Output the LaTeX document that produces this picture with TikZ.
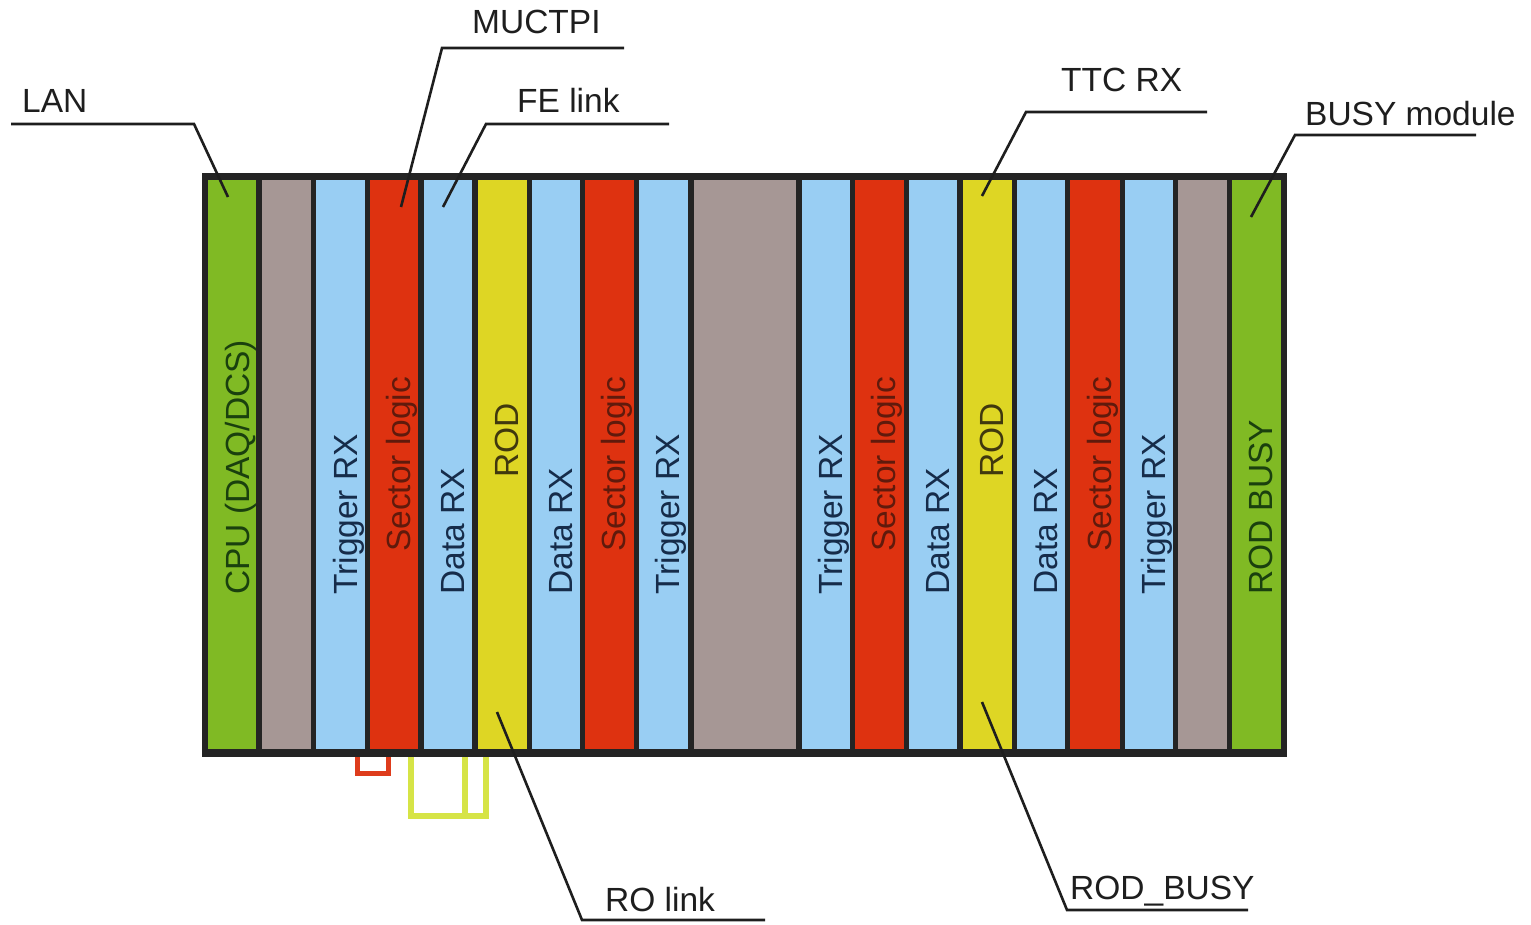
\documentclass[tikz,border=0pt]{standalone}
\usepackage{fontspec}
\setmainfont{Liberation Sans}
\definecolor{cgreen}{RGB}{128,186,36}
\definecolor{cgray}{RGB}{166,151,149}
\definecolor{cblue}{RGB}{153,206,243}
\definecolor{cred}{RGB}{222,50,16}
\definecolor{cyellow}{RGB}{222,214,36}
\definecolor{framedark}{RGB}{36,36,36}
\definecolor{linedark}{RGB}{30,30,30}
\definecolor{tgreen}{RGB}{26,64,14}
\definecolor{tnavy}{RGB}{22,44,74}
\definecolor{tred}{RGB}{96,26,12}
\definecolor{tolive}{RGB}{64,56,14}
\definecolor{textdark}{RGB}{30,30,30}
\definecolor{redlink}{RGB}{222,60,28}
\definecolor{limelink}{RGB}{214,228,70}
\begin{document}
\begin{tikzpicture}[x=1pt,y=-1pt,
  rackbox/.style={rectangle, inner sep=0pt, draw=none, fill=framedark, anchor=north west},
  col/.style={rectangle, inner sep=0pt, draw=none, anchor=north west, minimum height=569pt},
  ctext/.style={rotate=90, anchor=base west, inner sep=0pt, font=\fontsize{33.5}{40}\selectfont},
  lbl/.style={anchor=base west, inner sep=0pt, text=textdark, font=\fontsize{33.5}{40}\selectfont},
  leader/.style={draw=linedark, line width=2.6pt},
  redcable/.style={draw=redlink, line width=5pt},
  limecable/.style={draw=limelink, line width=6pt}]
\useasboundingbox (0,0) rectangle (1531,925);

% cables below the rack
\coordinate (r1) at (357,750); \coordinate (r2) at (357,773);
\coordinate (r3) at (388,773); \coordinate (r4) at (388,750);
\draw[redcable] (r1) -- (r2) -- (r3) -- (r4);
\coordinate (y1) at (411,750); \coordinate (y2) at (411,816);
\coordinate (y3) at (486,816); \coordinate (y4) at (486,750);
\coordinate (y5) at (465,750); \coordinate (y6) at (465,816);
\draw[limecable] (y1) -- (y2) -- (y3) -- (y4);
\draw[limecable] (y5) -- (y6);

% rack frame
\node[rackbox, minimum width=1085pt, minimum height=584pt] (rack) at (202,173) {};

% columns
\node[col, fill=cgreen,  minimum width=48pt]  (c1)  at (208,180) {};
\node[col, fill=cgray,   minimum width=49pt]  (c2)  at (262,180) {};
\node[col, fill=cblue,   minimum width=49pt]  (c3)  at (316,180) {};
\node[col, fill=cred,    minimum width=48pt]  (c4)  at (370,180) {};
\node[col, fill=cblue,   minimum width=48pt]  (c5)  at (424,180) {};
\node[col, fill=cyellow, minimum width=49pt]  (c6)  at (478,180) {};
\node[col, fill=cblue,   minimum width=48pt]  (c7)  at (532,180) {};
\node[col, fill=cred,    minimum width=49pt]  (c8)  at (585,180) {};
\node[col, fill=cblue,   minimum width=49pt]  (c9)  at (639,180) {};
\node[col, fill=cgray,   minimum width=102pt] (c10) at (694,180) {};
\node[col, fill=cblue,   minimum width=48pt]  (c11) at (802,180) {};
\node[col, fill=cred,    minimum width=49pt]  (c12) at (855,180) {};
\node[col, fill=cblue,   minimum width=48pt]  (c13) at (909,180) {};
\node[col, fill=cyellow, minimum width=49pt]  (c14) at (963,180) {};
\node[col, fill=cblue,   minimum width=48pt]  (c15) at (1017,180) {};
\node[col, fill=cred,    minimum width=50pt]  (c16) at (1070,180) {};
\node[col, fill=cblue,   minimum width=48pt]  (c17) at (1125,180) {};
\node[col, fill=cgray,   minimum width=49pt]  (c18) at (1178,180) {};
\node[col, fill=cgreen,  minimum width=49pt]  (c19) at (1232,180) {};

% column texts
\node[ctext, text=tgreen] (t1)  at (249,595)  {CPU (DAQ/DCS)};
\node[ctext, text=tnavy]  (t3)  at (357,595)  {Trigger RX};
\node[ctext, text=tred]   (t4)  at (410,552)  {Sector logic};
\node[ctext, text=tnavy]  (t5)  at (464,595)  {Data RX};
\node[ctext, text=tolive] (t6)  at (518,478)  {ROD};
\node[ctext, text=tnavy]  (t7)  at (572,595)  {Data RX};
\node[ctext, text=tred]   (t8)  at (625,552)  {Sector logic};
\node[ctext, text=tnavy]  (t9)  at (679,595)  {Trigger RX};
\node[ctext, text=tnavy]  (t11) at (842,595)  {Trigger RX};
\node[ctext, text=tred]   (t12) at (895,552)  {Sector logic};
\node[ctext, text=tnavy]  (t13) at (949,595)  {Data RX};
\node[ctext, text=tolive] (t14) at (1003,478) {ROD};
\node[ctext, text=tnavy]  (t15) at (1057,595) {Data RX};
\node[ctext, text=tred]   (t16) at (1111,552) {Sector logic};
\node[ctext, text=tnavy]  (t17) at (1165,595) {Trigger RX};
\node[ctext, text=tgreen] (t19) at (1272,595) {ROD BUSY};

% labels
\node[lbl] (lan)    at (22,113)   {LAN};
\node[lbl] (muctpi) at (472,34)   {MUCTPI};
\node[lbl] (fe)     at (517,113)  {FE link};
\node[lbl] (ttc)    at (1061,92)  {TTC RX};
\node[lbl] (busy)   at (1305,126) {BUSY module};
\node[lbl] (ro)     at (605,911)  {RO link};
\node[lbl] (rodb)   at (1070,899) {ROD\_BUSY};

% leader lines
\coordinate (lanS) at (11,124);   \coordinate (lanB) at (194,124);  \coordinate (lanT) at (228,197);
\coordinate (muS) at (624,48);    \coordinate (muB) at (442,48);    \coordinate (muT) at (401,207);
\coordinate (feS) at (669,124);   \coordinate (feB) at (486,124);   \coordinate (feT) at (443,207);
\coordinate (ttS) at (1207,112);  \coordinate (ttB) at (1026,112);  \coordinate (ttT) at (982,196);
\coordinate (buS) at (1476,135);  \coordinate (buB) at (1295,135);  \coordinate (buT) at (1251,217);
\coordinate (roT) at (497,712);   \coordinate (roB) at (582,920);   \coordinate (roS) at (765,920);
\coordinate (rbT) at (982,702);   \coordinate (rbB) at (1067,910);  \coordinate (rbS) at (1248,910);
\draw[leader] (lanS) -- (lanB) -- (lanT);
\draw[leader] (muS) -- (muB) -- (muT);
\draw[leader] (feS) -- (feB) -- (feT);
\draw[leader] (ttS) -- (ttB) -- (ttT);
\draw[leader] (buS) -- (buB) -- (buT);
\draw[leader] (roT) -- (roB) -- (roS);
\draw[leader] (rbT) -- (rbB) -- (rbS);
\end{tikzpicture}
\end{document}
